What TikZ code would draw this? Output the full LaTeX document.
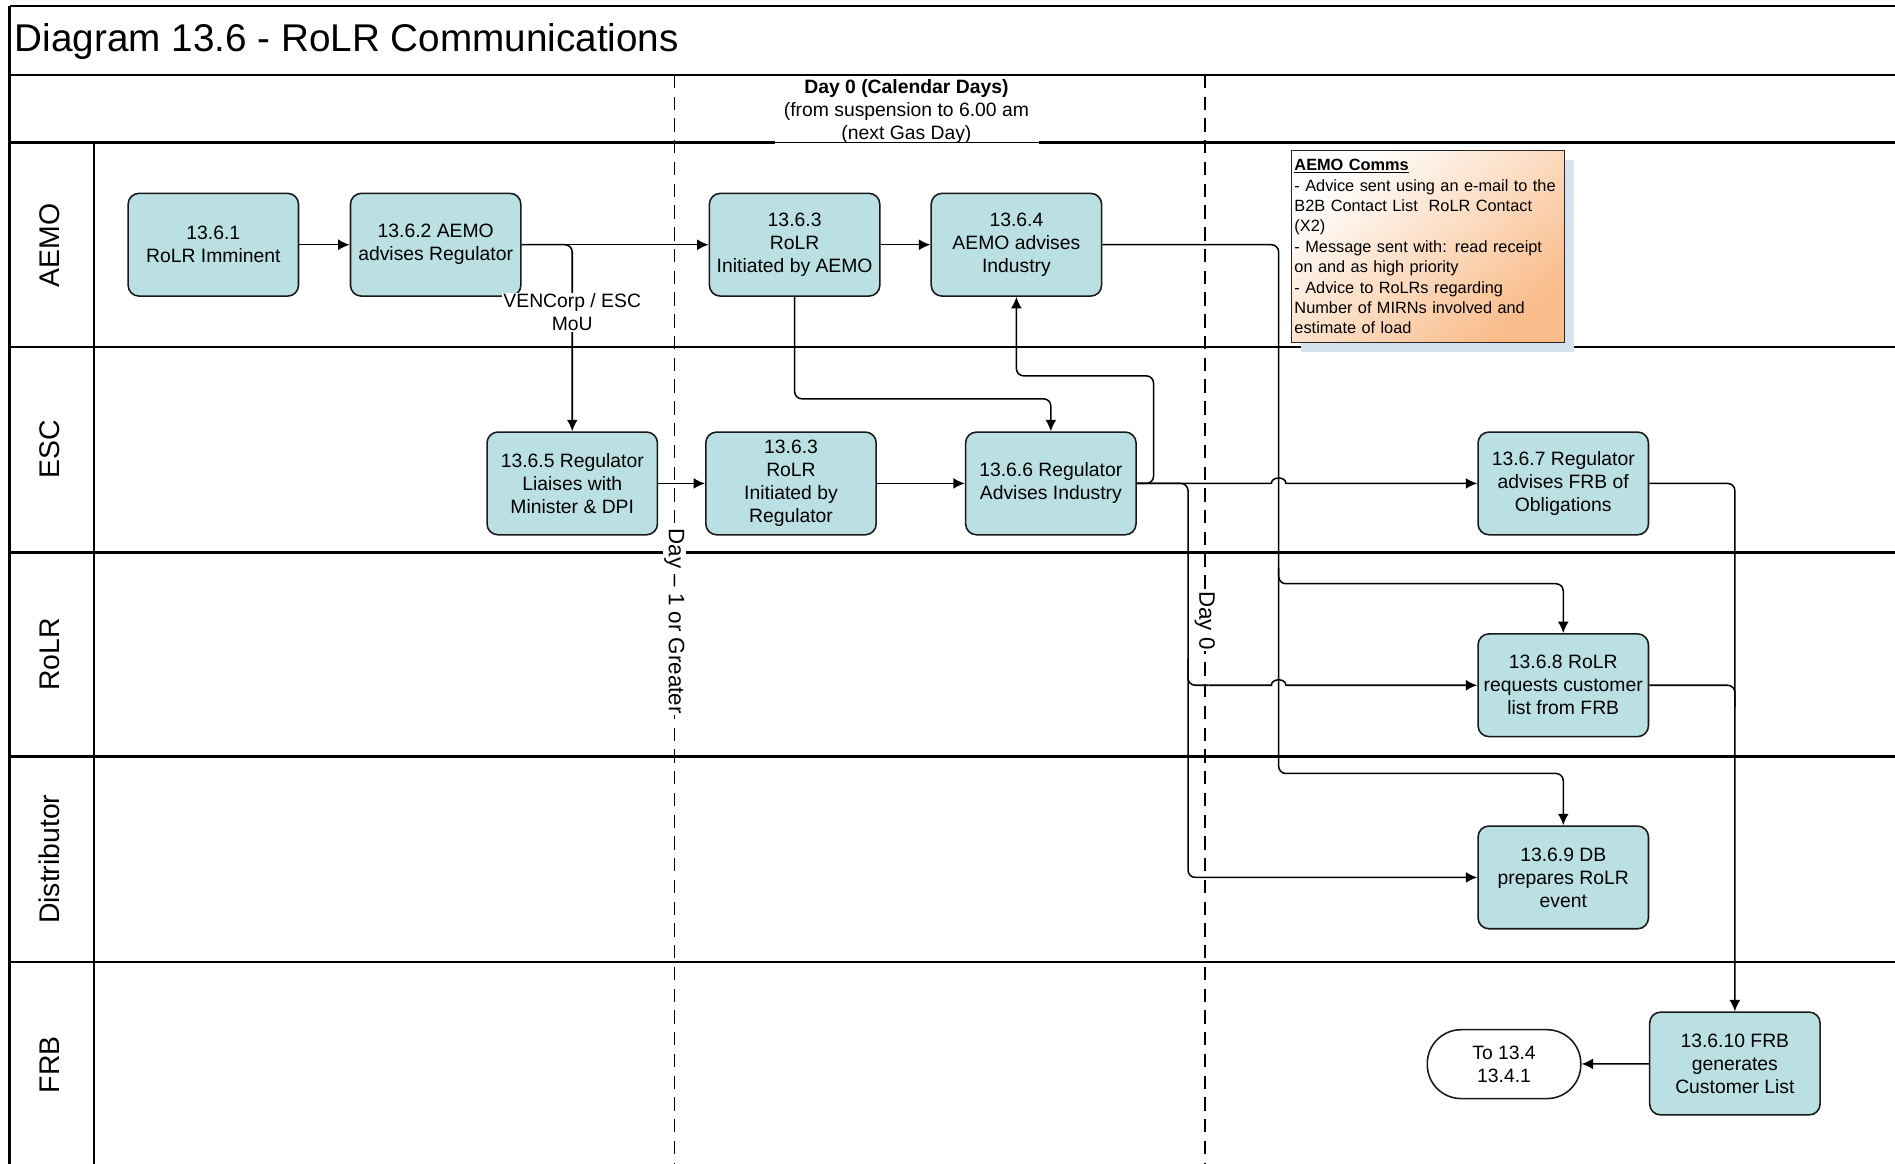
\documentclass[tikz,border=0pt]{standalone}
\usepackage{fontspec}
\setmainfont{Liberation Sans}
\usetikzlibrary{arrows.meta,shadows}
\definecolor{boxfill}{RGB}{186,224,227}
\definecolor{noteor}{RGB}{249,188,138}
\definecolor{shadowc}{RGB}{214,226,240}
\begin{document}
\begin{tikzpicture}[x=1pt,y=-1pt,
  proc/.style={draw=black!90, line width=1.3pt, rounded corners=9pt, fill=boxfill,
    minimum width=141pt, minimum height=85pt, align=center, inner sep=2pt,
    font=\fontsize{16}{19}\selectfont},
  termbox/.style={draw=black!90, line width=1.3pt, rounded corners=28pt, fill=white,
    minimum width=127pt, minimum height=57pt, align=center, inner sep=2pt,
    font=\fontsize{16}{19}\selectfont},
  notebox/.style={draw=black!85, line width=1.2pt, shading=axis, top color=white,
    bottom color=noteor, shading angle=40,
    drop shadow={shadow xshift=8pt, shadow yshift=-8pt, fill=shadowc, opacity=1},
    text width=221pt, minimum height=159pt, inner xsep=2.5pt, inner ysep=4pt, align=left,
    font=\fontsize{13.5}{16.9}\selectfont},
  conn/.style={line width=1.25pt, rounded corners=6pt},
  arr/.style={conn, -{Latex[length=9.5pt,width=9pt]}},
  hoparr/.style={line width=1.25pt, -{Latex[length=9.5pt,width=9pt]}},
  lane/.style={line width=2pt},
  lanelab/.style={rotate=90, font=\fontsize{23.5}{28}\selectfont},
  dayline/.style={line width=1.2pt, dash pattern=on 11pt off 7pt},
  daylab/.style={rotate=-90, fill=white, inner sep=1pt, font=\fontsize{18.5}{22}\selectfont},
  lbl/.style={fill=white, inner sep=1pt, align=center, font=\fontsize{16}{19}\selectfont}]

\useasboundingbox (0,0) rectangle (1568,963);
\fill[white] (0,0) rectangle (1568,963);

% frame and lanes
\draw[lane] (8,5) -- (1568,5);
\draw[lane] (8,5) -- (8,963);
\draw[lane] (8,62) -- (1568,62);
\draw[lane] (8,118) -- (641,118);
\draw[line width=0.8pt] (641,118) -- (860,118);
\draw[lane] (860,118) -- (1568,118);
\draw[lane] (8,287) -- (1568,287);
\draw[lane] (8,457) -- (1568,457);
\draw[lane] (8,626) -- (1568,626);
\draw[lane] (8,796) -- (1568,796);
\draw[line width=1.5pt] (78,118) -- (78,963);

% day dividers
\draw[dayline] (558,62) -- (558,963);
\draw[dayline] (997,62) -- (997,963);

% title and header
\node[anchor=base west, inner sep=0, font=\fontsize{32}{38}\selectfont] (title) at (12,43) {Diagram 13.6 - RoLR Communications};
\node[align=center, inner sep=0, font=\fontsize{16}{19}\selectfont] (hdr) at (750,92)
  {\textbf{Day 0 (Calendar Days)}\\(from suspension to 6.00 am\\(next Gas Day)};

% lane labels
\node[lanelab] (lAEMO) at (41,203) {AEMO};
\node[lanelab] (lESC) at (41,372) {ESC};
\node[lanelab] (lRoLR) at (41,541.5) {RoLR};
\node[lanelab] (lDist) at (41,711) {Distributor};
\node[lanelab] (lFRB) at (41,881) {FRB};

% process boxes
\node[proc] (b1) at (176.5,202.5) {13.6.1\\RoLR Imminent};
\node[proc] (b2) at (360.5,202.5) {13.6.2 AEMO\\advises Regulator};
\node[proc] (b3) at (657.5,202.5) {13.6.3\\RoLR\\Initiated by AEMO};
\node[proc] (b4) at (841,202.5) {13.6.4\\AEMO advises\\Industry};
\node[proc] (b5) at (473.5,400) {13.6.5 Regulator\\Liaises with\\Minister \& DPI};
\node[proc] (b6) at (654.5,400) {13.6.3\\RoLR\\Initiated by\\Regulator};
\node[proc] (b7) at (869.5,400) {13.6.6 Regulator\\Advises Industry};
\node[proc] (b8) at (1293.5,400) {13.6.7 Regulator\\advises FRB of\\Obligations};
\node[proc] (b9) at (1293.5,567) {13.6.8 RoLR\\requests customer\\list from FRB};
\node[proc] (b10) at (1293.5,726) {13.6.9 DB\\prepares RoLR\\event};
\node[proc] (b11) at (1435.5,880) {13.6.10 FRB\\generates\\Customer List};
\node[termbox] (term) at (1244.5,880.5) {To 13.4\\13.4.1};

% note
\node[notebox, anchor=north west] (note) at (1068,124)
  {\underline{\textbf{AEMO Comms}}\\
   - Advice sent using an e-mail to the\\
   B2B Contact List\ \ RoLR Contact\\
   (X2)\\
   - Message sent with: read receipt\\
   on and as high priority\\
   - Advice to RoLRs regarding\\
   Number of MIRNs involved and\\
   estimate of load};

% connectors
\draw[arr] (b1) -- (b2);
\draw[arr] (b2) -- (b3);
\draw[arr] (b2.east) -- (473.5,202.5) -- (b5.north);
\draw[arr] (b3) -- (b4);
\draw[arr] (b3.south) -- (657.5,330) -- (869.5,330) -- (b7.north);
\draw[arr] (b5) -- (b6);
\draw[arr] (b6) -- (b7);
\draw[arr] (b7.east) -- (954.5,400) -- (954.5,311) -- (841,311) -- (b4.south);
\draw[hoparr] (b7.east) -- (1052,400) .. controls (1052,394) and (1064,394) .. (1064,400) -- (b8.west);
\draw[arr] (b7.east) -- (983,400) -- (983,726) -- (b10.west);
\draw[conn] (983,545) -- (983,567) -- (1000,567);
\coordinate (j9) at (1000,567);
\draw[hoparr] (j9) -- (1052,567) .. controls (1052,561) and (1064,561) .. (1064,567) -- (b9.west);
\draw[arr] (b4.east) -- (1058,202.5) -- (1058,483) -- (1293.5,483) -- (b9.north);
\draw[arr] (1058,470) -- (1058,640) -- (1293.5,640) -- (b10.north);
\draw[arr] (b8.east) -- (1435.5,400) -- (b11.north);
\draw[conn] (b9.east) -- (1435.5,567) -- (1435.5,585);
\draw[hoparr] (b11) -- (term);

% labels
\node[lbl] (mou) at (473.5,258.5) {VENCorp / ESC\\MoU};
\node[daylab] (dayA) at (558,514) {Day -- 1 or Greater};
\node[daylab] (dayB) at (997,513.5) {Day 0};
\end{tikzpicture}
\end{document}
